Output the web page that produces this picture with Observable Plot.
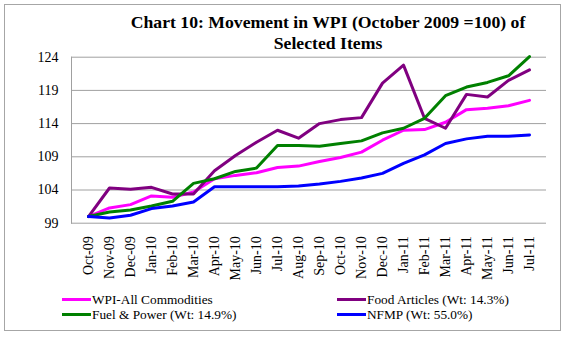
<!DOCTYPE html>
<html>
<head>
<meta charset="utf-8">
<script src="https://cdn.jsdelivr.net/npm/d3@7"></script>
<script src="https://cdn.jsdelivr.net/npm/@observablehq/plot@0.6"></script>
<style>
  html, body { margin: 0; padding: 0; background: #fff; }
  #wrap { position: relative; width: 576px; height: 344px; font-family: "Liberation Serif", "Times New Roman", serif; }
  #border { position: absolute; left: 4px; top: 4px; width: 557px; height: 327px; border: 1px solid #a6a6a6; box-sizing: border-box; }
  #title { position: absolute; left: 0; width: 656px; top: 12px; text-align: center; font-weight: bold; font-size: 17.7px; line-height: 21px; color: #000; }
  #chart { position: absolute; left: 0; top: 0; }
  .leg { position: absolute; font-size: 13.3px; line-height: 12px; height: 12px; color: #000; white-space: nowrap; display: flex; align-items: center; }
  .sw { display: inline-block; width: 29px; height: 3px; margin-right: 1px; }
</style>
</head>
<body>
<div id="wrap">
  <div id="border"></div>
  <div id="chart"></div>
  <div id="title">Chart 10: Movement in WPI (October 2009 =100) of<br>Selected Items</div>
  <div id="legend"></div>
</div>
<script>
const months = ["Oct-09","Nov-09","Dec-09","Jan-10","Feb-10","Mar-10","Apr-10","May-10","Jun-10","Jul-10","Aug-10","Sep-10","Oct-10","Nov-10","Dec-10","Jan-11","Feb-11","Mar-11","Apr-11","May-11","Jun-11","Jul-11"];
const wpi  = [100, 101.3, 101.8, 103.1, 102.9, 103.7, 105.7, 106.2, 106.6, 107.4, 107.6, 108.3, 108.9, 109.7, 111.5, 113.0, 113.1, 114.2, 116.1, 116.3, 116.7, 117.5];
const food = [100, 104.3, 104.1, 104.4, 103.4, 103.4, 106.9, 109.2, 111.2, 113.0, 111.8, 114.0, 114.6, 114.9, 120.1, 122.8, 114.8, 113.3, 118.4, 118.0, 120.5, 122.1];
const fuel = [100, 100.7, 101.0, 101.6, 102.3, 105.0, 105.7, 106.8, 107.3, 110.7, 110.7, 110.6, 111.0, 111.4, 112.6, 113.3, 114.8, 118.2, 119.5, 120.2, 121.2, 124.1];
const nfmp = [100, 99.8, 100.2, 101.2, 101.6, 102.2, 104.5, 104.5, 104.5, 104.5, 104.6, 104.9, 105.3, 105.8, 106.5, 108.0, 109.3, 111.0, 111.7, 112.1, 112.1, 112.3];
const yTicks = [99, 104, 109, 114, 119, 124];
const seriesNames = ["WPI-All Commodities", "Food Articles (Wt: 14.3%)", "Fuel & Power (Wt: 14.9%)", "NFMP (Wt: 55.0%)"];
const seriesColors = ["#ff00ff", "#800080", "#008000", "#0000ff"];
const seriesValues = [wpi, food, fuel, nfmp];

const rows = [];
seriesNames.forEach((name, i) => {
  months.forEach((m, j) => rows.push({series: name, month: m, value: seriesValues[i][j]}));
});

const plot = Plot.plot({
  width: 576,
  height: 290,
  marginLeft: 71,
  marginRight: 30,
  marginTop: 56.7,
  marginBottom: 67.3,
  style: {fontFamily: '"Liberation Serif", "Times New Roman", serif', fontSize: "14px", color: "#000", background: "transparent"},
  x: {type: "point", domain: months, padding: 0.5, label: null, tickSize: 0, tickPadding: 13, tickRotate: -90},
  y: {domain: [99, 124], ticks: yTicks, label: null, tickSize: 0, tickPadding: 13},
  color: {domain: seriesNames, range: seriesColors},
  marks: [
    Plot.ruleY(yTicks, {stroke: "#a0a0a0", strokeWidth: 1}),
    Plot.frame({anchor: "left", stroke: "#a0a0a0"}),
    ...seriesNames.map(name => Plot.line(rows.filter(d => d.series === name), {x: "month", y: "value", stroke: "series", strokeWidth: 3})),
  ]
});
document.getElementById("chart").appendChild(plot);

const legendPos = [[62, 299.5], [337, 299.5], [62, 314.5], [337, 314.5]];
const legend = document.getElementById("legend");
seriesNames.forEach((name, i) => {
  const el = document.createElement("div");
  el.className = "leg";
  el.style.left = legendPos[i][0] + "px";
  el.style.top = (legendPos[i][1] - 6) + "px";
  const sw = document.createElement("span");
  sw.className = "sw";
  sw.style.background = seriesColors[i];
  el.appendChild(sw);
  el.appendChild(document.createTextNode(name));
  legend.appendChild(el);
});
</script>
</body>
</html>
